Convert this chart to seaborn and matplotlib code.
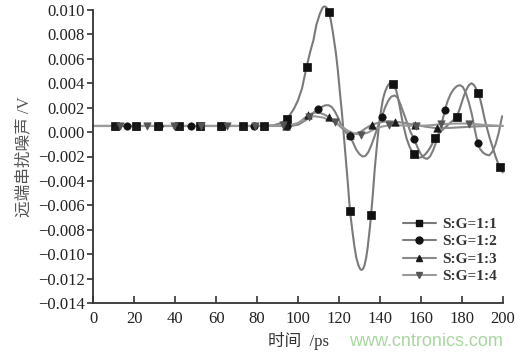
import numpy as np
import pandas as pd
import matplotlib
matplotlib.use("Agg")
import matplotlib.pyplot as plt
from matplotlib.lines import Line2D
from matplotlib.ticker import MultipleLocator, FuncFormatter
import seaborn as sns

# ---------------- data (values in mV, converted to V below) ----------------
series_names = ["S:G=1:1", "S:G=1:2", "S:G=1:3", "S:G=1:4"]

# curve (line) readings
c1_x = [0, 20, 40, 60, 80, 88, 92, 94.5, 96, 98, 100, 102, 104.2, 106, 107.5, 109, 110.7, 112, 113,
        114, 115, 116, 117, 118.5, 119.5, 120.5, 121.5, 122.5, 123.5, 124.5, 125.4, 126.5, 127.5,
        128.5, 129.5, 130.3, 131, 131.8, 132.5, 133.3, 134, 135, 135.7, 136.6, 137.5, 138.5, 139.5,
        140.5, 141.5, 142.5, 143.5, 144.5, 145.5, 146.6, 147.3, 148, 149, 150, 151, 152, 153, 154.5,
        156, 157.5, 159, 160.5, 162, 163.5, 165, 167, 168.5, 170, 172, 174, 176, 177.5, 179, 180.5,
        182, 183.5, 184.8, 186, 187, 188, 189, 190, 191, 192.2, 193.5, 195, 196.5, 198.5, 200]
c1_y = [0.5, 0.5, 0.5, 0.5, 0.5, 0.55, 0.75, 1.1, 1.4, 1.9, 2.6, 3.6, 5.35, 6.6, 7.5, 8.8, 9.7, 10.2, 10.3,
        10.2, 9.8, 9.2, 8.2, 6.5, 5.0, 3.2, 1.5, -0.5, -2.5, -4.5, -6.5, -8.0, -9.3,
        -10.3, -10.9, -11.2, -11.3, -11.2, -10.9, -10.3, -9.5, -8.0, -6.8, -5.0, -3.0, -1.2, 0.5,
        1.7, 2.7, 3.3, 3.7, 3.95, 4.0, 3.9, 3.7, 3.4, 2.7, 1.8, 0.9, 0.2, -0.5, -1.2,
        -1.7, -2.0, -2.1, -2.05, -1.85, -1.55, -1.15, -0.5, -0.2, 0.1, 0.4, 0.7, 1.0, 1.25, 1.9, 2.7,
        3.4, 3.85, 4.0, 3.85, 3.55, 3.2, 2.7, 2.0, 1.2, 0.4, -0.4, -1.2, -2.0, -2.9, -3.3]

c2_x = [0, 20, 40, 60, 80, 95, 100, 102, 104, 106, 108, 110, 112, 113.5, 115, 116.5, 118, 119.5, 121,
        122.5, 124, 125.4, 127, 128.5, 130, 131.5, 133, 134.5, 136, 137.5, 139, 140.9, 142.5, 144,
        145.5, 147.2, 148.5, 150, 151.5, 153, 155, 156.8, 158.5, 160, 161.5, 163, 164.5, 166, 167.5,
        169, 170.5, 171.8, 173, 174.5, 176, 177.5, 179, 180.5, 182, 183.5, 185, 186.5, 187.8, 189,
        190.5, 192, 193.5, 195, 196.5, 198, 199.7]
c2_y = [0.5, 0.5, 0.5, 0.5, 0.5, 0.5, 0.6, 0.8, 1.0, 1.35, 1.65, 1.88, 2.1, 2.2, 2.2, 2.05, 1.7, 1.2, 0.6,
        0.15, -0.15, -0.3, -0.9, -1.45, -1.8, -2.0, -1.95, -1.6, -1.0, -0.3, 0.45, 1.25, 2.0, 2.55,
        2.9, 3.0, 2.85, 2.3, 1.6, 0.9, 0.0, -0.6, -1.3, -1.8, -2.1, -2.2, -2.0, -1.5, -0.8,
        0.0, 0.9, 1.8, 2.5, 3.1, 3.5, 3.75, 3.85, 3.7, 3.2, 2.4, 1.4, 0.1, -0.9, -1.4,
        -1.7, -1.85, -1.9, -1.6, -1.0, -0.1, 1.3]

c3_x = [0, 20, 40, 60, 80, 96, 98, 100, 102.5, 105, 108, 111, 113, 115.3, 118, 121, 124, 127, 130, 133,
        136, 140, 144, 147.4, 152, 157, 162, 167.7, 175, 185, 192, 200]
c3_y = [0.5, 0.5, 0.5, 0.5, 0.5, 0.5, 0.55, 0.7, 1.05, 1.4, 1.6, 1.55, 1.42, 1.2, 0.85, 0.4, 0.0, -0.15,
        -0.05, 0.3, 0.6, 0.8, 0.9, 0.85, 0.75, 0.6, 0.45, 0.32, 0.35, 0.45, 0.5, 0.5]

c4_x = [0, 20, 40, 60, 80, 94, 97, 100, 104, 108, 112, 116, 118, 121, 124.5, 128, 131, 134, 137.5, 141,
        144.5, 150, 157.5, 164, 170, 177, 183.7, 190, 200]
c4_y = [0.5, 0.5, 0.5, 0.5, 0.5, 0.55, 0.6, 0.75, 1.1, 1.3, 1.2, 0.95, 0.8, 0.5, 0.1, -0.15, -0.2, -0.05,
        0.25, 0.45, 0.55, 0.55, 0.5, 0.55, 0.65, 0.7, 0.7, 0.6, 0.5]

# marker readings
m1_x = [10.5, 21, 31.5, 42, 52, 62.5, 73, 83.5, 94.5, 104.2, 115, 125.4, 135.7, 146.5, 156.8, 167,
        177.5, 188, 198.5]
m1_y = [0.5, 0.5, 0.5, 0.5, 0.5, 0.5, 0.5, 0.5, 1.1, 5.35, 9.8, -6.5, -6.8, 3.9, -1.8, -0.5,
        1.25, 3.2, -2.9]

m2_x = [16.5, 32, 47.5, 63, 78.5, 94.5, 109.9, 125.4, 140.9, 156.8, 171.8, 187.8]
m2_y = [0.5, 0.5, 0.5, 0.5, 0.5, 0.5, 1.86, -0.3, 1.25, -0.6, 1.8, -0.9]

m3_x = [10.5, 21, 31.5, 42, 52, 62.5, 73, 83.5, 94, 105, 115.3, 125.5, 136, 147.4, 157, 167.7]
m3_y = [0.5, 0.5, 0.5, 0.5, 0.5, 0.5, 0.5, 0.5, 0.5, 1.4, 1.2, -0.25, 0.6, 0.85, 0.6, 0.32]

m4_x = [13, 26, 39.5, 52.5, 65.5, 79, 92.5, 105.5, 118, 131, 144.5, 157.5, 170, 183.7]
m4_y = [0.5, 0.5, 0.5, 0.5, 0.5, 0.5, 0.55, 1.2, 0.8, -0.2, 0.55, 0.5, 0.65, 0.7]

x_ticks = [0, 20, 40, 60, 80, 100, 120, 140, 160, 180, 200]
y_ticks = [-0.014, -0.012, -0.010, -0.008, -0.006, -0.004, -0.002, 0.000, 0.002, 0.004, 0.006, 0.008, 0.010]

# ---------------- styling ----------------
sns.set_theme(style="white")
plt.rcParams["font.family"] = ["Liberation Serif", "Noto Sans CJK SC", "DejaVu Sans"]

curves = [(c1_x, c1_y), (c2_x, c2_y), (c3_x, c3_y), (c4_x, c4_y)]
markers_xy = [(m1_x, m1_y), (m2_x, m2_y), (m3_x, m3_y), (m4_x, m4_y)]
line_colors = ["#7a7a7a", "#7e7e7e", "#8a8a8a", "#9a9a9a"]
marker_colors = ["#111111", "#111111", "#1a1a1a", "#555555"]
marker_shapes = ["s", "o", "^", "v"]
marker_sizes = [28, 28, 28, 28]

fig = plt.figure(figsize=(5.27, 3.57), dpi=100)
ax = fig.add_axes([93.3 / 527, 54 / 357, (502.7 - 93.3) / 527, (303 - 10) / 357])

line_rows = []
for name, (xs, ys) in zip(series_names, curves):
    for xv, yv in zip(xs, ys):
        line_rows.append({"series": name, "t": xv, "v": yv * 1e-3})
line_df = pd.DataFrame(line_rows)

mk_rows = []
for name, (xs, ys) in zip(series_names, markers_xy):
    for xv, yv in zip(xs, ys):
        mk_rows.append({"series": name, "t": xv, "v": yv * 1e-3})
mk_df = pd.DataFrame(mk_rows)

pal_line = dict(zip(series_names, line_colors))
for name in series_names:
    sub = line_df[line_df.series == name]
    sns.lineplot(data=sub, x="t", y="v", ax=ax, color=pal_line[name], lw=1.5,
                 sort=False, estimator=None, legend=False, clip_on=False, zorder=2)

for name, shp, col, sz in zip(series_names, marker_shapes, marker_colors, marker_sizes):
    sub = mk_df[mk_df.series == name]
    sns.scatterplot(data=sub, x="t", y="v", ax=ax, marker=shp, color=col, s=sz,
                    edgecolor=col, linewidth=0.5, legend=False, clip_on=False, zorder=3)

ax.set_xlim(0, 200)
ax.set_ylim(-0.014, 0.010)
ax.set_xticks(x_ticks)
ax.set_yticks(y_ticks)
ax.xaxis.set_minor_locator(MultipleLocator(10))
ax.yaxis.set_minor_locator(MultipleLocator(0.001))
ax.yaxis.set_major_formatter(FuncFormatter(lambda v, p: ("%.3f" % v).replace("-", "\u2212")))

for s in ["top", "right"]:
    ax.spines[s].set_visible(False)
for s in ["left", "bottom"]:
    ax.spines[s].set_color("#333333")
    ax.spines[s].set_linewidth(1.3)

ax.tick_params(axis="x", which="major", direction="in", length=5, width=1.2, colors="#333333",
               labelsize=12, labelcolor="#222222", pad=6)
ax.tick_params(axis="x", which="minor", direction="in", length=3, width=1.0, colors="#333333")
ax.tick_params(axis="y", which="major", direction="out", length=4, width=1.2, colors="#333333",
               labelsize=12, labelcolor="#222222", pad=2)
ax.tick_params(axis="y", which="minor", direction="out", length=2.5, width=1.0, colors="#333333")
ax.tick_params(bottom=True, left=True)

ax.set_xlabel("时间  /ps", fontsize=12, color="#333333", labelpad=3)
ax.set_ylabel("远端串扰噪声 /V", fontsize=12, color="#555555", labelpad=4)

handles = []
for name, shp, lc, mc in zip(series_names, marker_shapes, line_colors, marker_colors):
    handles.append(Line2D([], [], color=lc, lw=1.5, marker=shp, markersize=5,
                          markerfacecolor=mc, markeredgecolor=mc))
leg = ax.legend(handles, series_names, loc="lower right", bbox_to_anchor=(1.02, 0.02),
                frameon=False, handlelength=2.2, handletextpad=0.4,
                labelspacing=0.25, prop={"family": "Liberation Serif", "weight": "bold", "size": 11})
for t in leg.get_texts():
    t.set_color("#333333")

fig.text(426 / 527, 1 - 342 / 357, "www.cntronics.com", ha="center", va="center",
         fontsize=13, color="#a9d6a0", family="Liberation Sans")

fig.savefig("out.png", dpi=100)
